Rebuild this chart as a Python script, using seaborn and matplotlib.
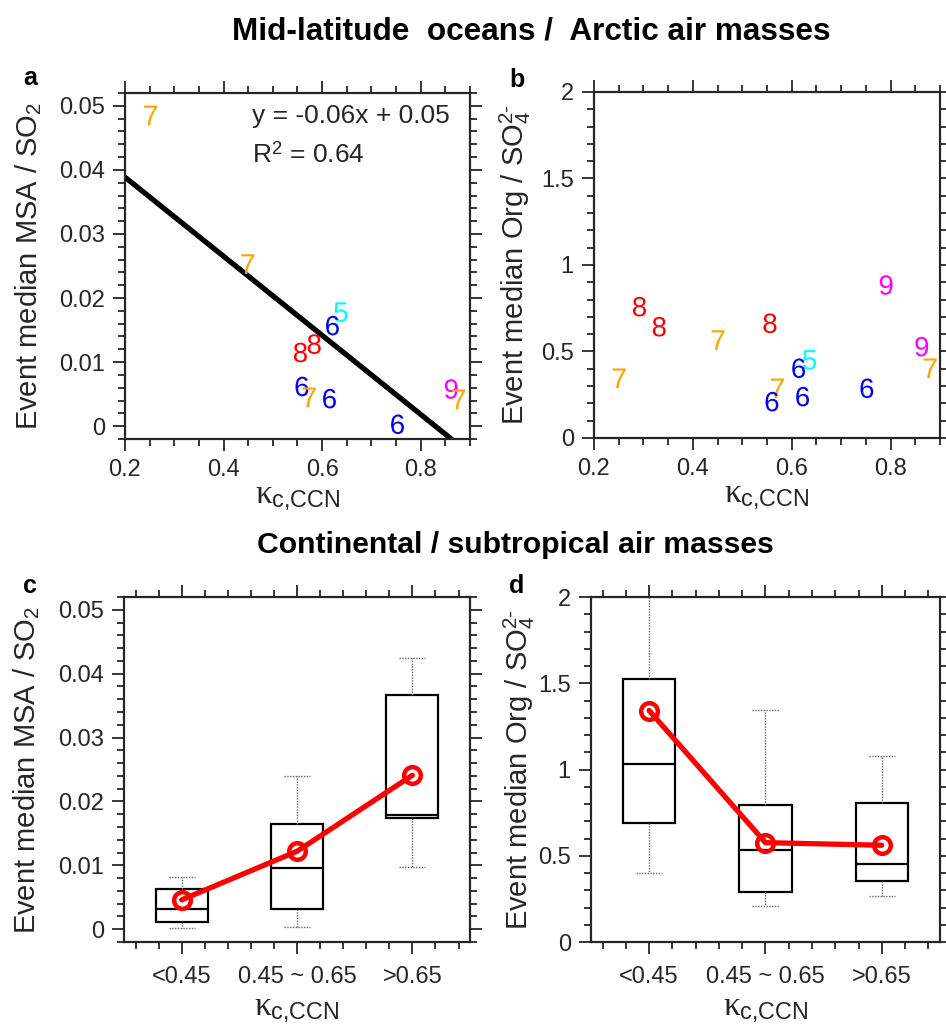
import numpy as np
import pandas as pd
import matplotlib
matplotlib.use("Agg")
import matplotlib.pyplot as plt
from matplotlib.ticker import MultipleLocator, FuncFormatter
import seaborn as sns

# ---- data ----
# panel a: event number, kappa_c,CCN and event median MSA/SO2
a_event = [7, 7, 5, 6, 8, 8, 6, 7, 6, 6, 9, 7]
a_kappa = [0.252, 0.449, 0.638, 0.621, 0.584, 0.556, 0.559, 0.574, 0.615, 0.753, 0.862, 0.877]
a_msa = [0.0485, 0.0253, 0.0178, 0.0157, 0.0128, 0.0115, 0.0062, 0.0045, 0.0043, 0.0003, 0.0058, 0.0042]

# linear fit shown in panel a
fit_slope = -0.0617
fit_icpt = 0.0512

# panel b: event number, kappa_c,CCN and event median Org/SO4
b_event = [8, 8, 7, 7, 8, 9, 9, 7, 5, 6, 7, 6, 6, 6]
b_kappa = [0.292, 0.332, 0.251, 0.451, 0.556, 0.791, 0.863, 0.880, 0.636, 0.614, 0.571, 0.560, 0.622, 0.752]
b_org = [0.759, 0.643, 0.345, 0.566, 0.663, 0.884, 0.528, 0.403, 0.451, 0.403, 0.287, 0.210, 0.239, 0.287]

# panels c/d: kappa bins, box summaries (whisker low, q1, median, q3, whisker high) and means
bins = ['<0.45', '0.45 ~ 0.65', '>0.65']
bin_pos = [1, 2, 3]

c_lo = [0.0002, 0.0004, 0.0097]
c_q1 = [0.0011, 0.0032, 0.0174]
c_med = [0.0031, 0.0096, 0.0179]
c_q3 = [0.0063, 0.0165, 0.0367]
c_hi = [0.0082, 0.0240, 0.0424]
c_mean = [0.0046, 0.0122, 0.0241]

d_lo = [0.402, 0.207, 0.268]
d_q1 = [0.688, 0.292, 0.354]
d_med = [1.031, 0.532, 0.455]
d_q3 = [1.527, 0.794, 0.807]
d_hi = [2.10, 1.345, 1.080]
d_mean = [1.342, 0.576, 0.561]

event_colors = {5: '#00FFFF', 6: '#0000FF', 7: '#FFA500', 8: '#FF0000', 9: '#FF00FF'}

# ---- style ----
sns.set_theme(style="ticks")
plt.rcParams['font.family'] = ['Liberation Sans', 'DejaVu Sans']
plt.rcParams['mathtext.fontset'] = 'custom'
plt.rcParams['mathtext.rm'] = 'Liberation Sans'
plt.rcParams['mathtext.it'] = 'Liberation Serif'   # only used for the kappa
plt.rcParams['mathtext.bf'] = 'Liberation Sans:bold'

ink = '#262626'
fig = plt.figure(figsize=(9.46, 10.32), dpi=100)

ax_a = fig.add_axes([0.1321, 0.5746, 0.3647, 0.3353])
ax_b = fig.add_axes([0.6279, 0.5756, 0.3658, 0.3353])
ax_c = fig.add_axes([0.1311, 0.0872, 0.3658, 0.3343])
ax_d = fig.add_axes([0.6247, 0.0872, 0.3689, 0.3343])

fmt_g = FuncFormatter(lambda v, p: '%g' % round(v, 6))


def matlab_axes(ax, xmin_step, ymaj_step, ymin_step):
    ax.yaxis.set_major_locator(MultipleLocator(ymaj_step))
    ax.yaxis.set_minor_locator(MultipleLocator(ymin_step))
    ax.xaxis.set_minor_locator(MultipleLocator(xmin_step))
    ax.yaxis.set_major_formatter(fmt_g)
    ax.tick_params(which='both', direction='out', top=True, right=True,
                   labeltop=False, labelright=False, color=ink, width=1.3,
                   labelsize=17, labelcolor=ink)
    ax.tick_params(which='major', length=8.5)
    ax.tick_params(which='minor', length=5)
    ax.tick_params(axis='y', which='major', pad=6)
    ax.tick_params(axis='x', which='major', pad=6)
    for s in ax.spines.values():
        s.set_visible(True)
        s.set_linewidth(1.6)
        s.set_color(ink)
    ax.set_facecolor('white')


def set_labels(ax, ylab, ylab_x, xlab_y):
    ax.set_xlabel(r'$\kappa_{\mathregular{c{,}CCN}}$', fontsize=24, color=ink)
    ax.set_ylabel(ylab, fontsize=21, color=ink)
    ax.yaxis.set_label_coords(ylab_x, 0.5)
    ax.yaxis.label.set_verticalalignment('baseline')
    ax.xaxis.set_label_coords(0.5, xlab_y)
    ax.xaxis.label.set_verticalalignment('baseline')


msa_label = 'Event median MSA / SO$_2$'
org_label = r'Event median Org / SO$_4^{2\text{-}}$'

# ---- panel a ----
df_a = pd.DataFrame({'kappa': a_kappa, 'ratio': a_msa, 'event': a_event})
fit_x = np.array([0.2, 0.9])
sns.lineplot(x=fit_x, y=fit_slope * fit_x + fit_icpt, color='black', linewidth=3.8, ax=ax_a)
sns.scatterplot(data=df_a, x='kappa', y='ratio', hue='event', style='event',
                palette=event_colors,
                markers={k: r'$\mathregular{%d}$' % k for k in event_colors},
                s=200, linewidth=0, legend=False, ax=ax_a, zorder=3)
ax_a.set_xlim(0.2, 0.9)
ax_a.set_ylim(-0.002, 0.052)
ax_a.xaxis.set_major_locator(MultipleLocator(0.2))
ax_a.xaxis.set_major_formatter(fmt_g)
matlab_axes(ax_a, 0.05, 0.01, 0.002)
ax_a.text(0.367, 0.913, 'y = -0.06x + 0.05', transform=ax_a.transAxes,
          fontsize=19, color=ink, va='baseline')
ax_a.text(0.367, 0.798, 'R$^2$ = 0.64', transform=ax_a.transAxes,
          fontsize=19, color=ink, va='baseline')
set_labels(ax_a, msa_label, -0.252, -0.185)

# ---- panel b ----
df_b = pd.DataFrame({'kappa': b_kappa, 'ratio': b_org, 'event': b_event})
sns.scatterplot(data=df_b, x='kappa', y='ratio', hue='event', style='event',
                palette=event_colors,
                markers={k: r'$\mathregular{%d}$' % k for k in event_colors},
                s=200, linewidth=0, legend=False, ax=ax_b, zorder=3)
ax_b.set_xlim(0.2, 0.9)
ax_b.set_ylim(0, 2)
ax_b.xaxis.set_major_locator(MultipleLocator(0.2))
ax_b.xaxis.set_major_formatter(fmt_g)
matlab_axes(ax_b, 0.05, 0.5, 0.1)
set_labels(ax_b, org_label, -0.203, -0.185)


# ---- panels c, d: box plots built from the five summary values per bin ----
def box_frame(lo, q1, med, q3, hi):
    rows = []
    for i, p in enumerate(bin_pos):
        for v in (lo[i], q1[i], med[i], q3[i], hi[i]):
            rows.append({'pos': p, 'val': v})
    return pd.DataFrame(rows)


box_kws = dict(native_scale=True, whis=(0, 100), width=0.45, showfliers=False,
               color='white', linecolor='black', linewidth=1.6,
               whiskerprops=dict(linestyle=(0, (1, 1)), color='0.4', linewidth=1.0),
               capprops=dict(linestyle=(0, (1, 1)), color='0.4', linewidth=1.0),
               medianprops=dict(color='black', linewidth=1.6))

for ax, (lo, q1, med, q3, hi, mean) in [
        (ax_c, (c_lo, c_q1, c_med, c_q3, c_hi, c_mean)),
        (ax_d, (d_lo, d_q1, d_med, d_q3, d_hi, d_mean))]:
    sns.boxplot(data=box_frame(lo, q1, med, q3, hi), x='pos', y='val', ax=ax, **box_kws)
    sns.lineplot(x=bin_pos, y=mean, color='red', linewidth=3.8, marker='o',
                 markersize=12, markerfacecolor='none', markeredgecolor='red',
                 markeredgewidth=3.2, ax=ax, zorder=4)
    ax.set_xlim(0.5, 3.5)
    ax.set_xticks(bin_pos)
    ax.set_xticklabels(bins)

ax_c.set_ylim(-0.002, 0.052)
matlab_axes(ax_c, 0.2, 0.01, 0.002)
ax_d.set_ylim(0, 2)
matlab_axes(ax_d, 0.2, 0.5, 0.1)
for ax in (ax_c, ax_d):
    ax.tick_params(axis='x', which='major', pad=9)
set_labels(ax_c, msa_label, -0.254, -0.212)
set_labels(ax_d, org_label, -0.180, -0.212)

# ---- titles and panel letters ----
fig.text(0.5619, 1 - 40 / 1032, 'Mid-latitude  oceans /  Arctic air masses',
         ha='center', va='baseline', fontsize=22.7, fontweight='bold', color='black')
fig.text(0.5444, 1 - 553 / 1032, 'Continental / subtropical air masses',
         ha='center', va='baseline', fontsize=21.7, fontweight='bold', color='black')
for letter, x, y in [('a', 23, 85), ('b', 509, 87), ('c', 23, 593), ('d', 509, 593)]:
    fig.text(x / 946, 1 - y / 1032, letter, ha='left', va='baseline',
             fontsize=18, fontweight='bold', color='black')

fig.savefig('out.png', dpi=100, facecolor='white')
